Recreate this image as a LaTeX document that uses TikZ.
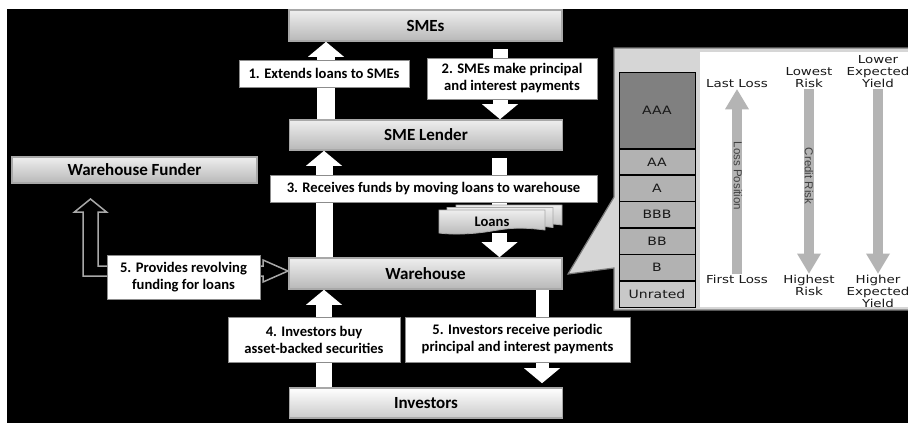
\documentclass[tikz,border=0pt]{standalone}
\usepackage{fontspec}
\setmainfont{Carlito}
\newfontfamily\panelfont[FakeStretch=1.22]{DejaVu Sans}
\newfontfamily\narrowfont{Liberation Sans}
\usetikzlibrary{arrows.meta}
\definecolor{boxtop}{HTML}{EEEEEE}
\definecolor{boxbot}{HTML}{B8B8B8}
\definecolor{glow}{HTML}{A8A8A8}
\definecolor{panelgray}{HTML}{D6D6D6}
\definecolor{paneledge}{HTML}{7A7A7A}
\definecolor{tranche}{HTML}{B2B2B2}
\definecolor{aaacol}{HTML}{808080}
\definecolor{unratedcol}{HTML}{C8C8C8}
\definecolor{parrow}{HTML}{B4B4B4}
\definecolor{lbledge}{HTML}{8C8C8C}
\pgfdeclarelayer{back}
\pgfdeclarelayer{mid}
\pgfsetlayers{back,mid,main}
\begin{document}
\begin{tikzpicture}[x=1pt,y=-1pt,
 mainbox/.style={draw=glow, line width=1.6pt, top color=boxtop, bottom color=boxbot, minimum width=273pt, minimum height=31pt, inner sep=0pt, font=\bfseries\fontsize{17}{20}\selectfont},
 lbl/.style={draw=lbledge, line width=0.8pt, fill=white, inner sep=0pt, align=center, font=\bfseries\fontsize{14.6}{17}\selectfont},
 blk/.style={draw=white, line width=#1, -{Triangle[width=36pt,length=15pt,line width=0pt]}},
 shaft/.style={draw=white, line width=#1},
 tr/.style={draw=black, line width=0.6pt, fill=tranche, minimum width=76pt, minimum height=25.83pt, inner sep=0pt, anchor=north, font=\panelfont\fontsize{11.5}{13}\selectfont, text=black!90},
 ptext/.style={align=center, inner sep=1pt, font=\panelfont\fontsize{11}{12}\selectfont, text=black!90},
 parr/.style={draw=parrow, line width=10pt, -{Triangle[width=24pt,length=20pt,line width=0pt]}},
 rottext/.style={rotate=-90, font=\narrowfont\fontsize{11.5}{13}\selectfont, text=black!75, inner sep=0pt},
 docsheet/.style={draw=glow, line width=0.8pt, top color=boxtop, bottom color=boxbot},
 hollow/.style={draw=glow, line width=1.5pt, fill=black, line join=miter},
 docpic/.pic={\path[docsheet] (0,0) -- (106,0) -- (106,20) .. controls (82,17) and (70,18) .. (53,21) .. controls (35,24) and (15,25) .. (0,23) -- cycle;}
]
\useasboundingbox (0,0) rectangle (908,423);
\begin{pgfonlayer}{back}
\fill[white] (0,0) rectangle (908,423);
\fill[black] (7,9) rectangle (908,423);
\end{pgfonlayer}

% right panel with callout
\fill[panelgray] (908,48) -- (614,48) -- (614,197) -- (568,274) -- (614,268) -- (614,310) -- (908,310) -- cycle;
\draw[paneledge, line width=1.2pt] (908,48) -- (614,48) -- (614,197) -- (568,274) -- (614,268) -- (614,310) -- (908,310);
\fill[white] (700,52) rectangle (908,307);

% tranches
\node[tr, fill=aaacol, minimum height=76pt] (aaa) at (657,72) {AAA};
\node[tr] (aa) at (aaa.south) {AA};
\node[tr] (a) at (aa.south) {A};
\node[tr] (bbb) at (a.south) {BBB};
\node[tr] (bb) at (bbb.south) {BB};
\node[tr] (b) at (bb.south) {B};
\node[tr, fill=unratedcol] (unrated) at (b.south) {Unrated};

% panel texts and arrows
\node[ptext] (lastloss) at (737,84) {Last Loss};
\node[ptext] (firstloss) at (737,279) {First Loss};
\node[ptext] (lowest) at (809,78) {Lowest\\Risk};
\node[ptext] (highest) at (809,285) {Highest\\Risk};
\node[ptext] (lower) at (878,72) {Lower\\Expected\\Yield};
\node[ptext] (higher) at (878,291) {Higher\\Expected\\Yield};
\draw[parr] (firstloss.north) -- (lastloss.south);
\draw[parr] (lowest.south) -- (highest.north);
\draw[parr] (lower.south) -- (higher.north);
\node[rottext] (losspos) at (738,176) {Loss Position};
\node[rottext] (credrisk) at (809,176) {Credit Risk};

% main boxes
\node[mainbox] (smes) at (425.5,25.5) {SMEs};
\node[mainbox, minimum height=30pt] (lender) at (426,135) {SME Lender};
\node[mainbox] (warehouse) at (425.5,273.5) {Warehouse};
\node[mainbox, minimum height=30pt, top color=white, bottom color=boxtop!85!black] (investors) at (426,403) {Investors};
\node[mainbox, minimum width=245pt, minimum height=26pt] (funder) at (134.5,170) {Warehouse Funder};

% loans stack
\pic at (456,205) {docpic};
\pic at (447,207.5) {docpic};
\pic at (439,210) {docpic};
\node[font=\bfseries\fontsize{14.6}{17}\selectfont, minimum width=106pt, minimum height=23pt, inner sep=0pt] (loans) at (492,221.5) {Loans};

% labels
\node[lbl, minimum width=170pt, minimum height=27pt] (l1) at (324,73.5) {1. Extends loans to SMEs};
\node[lbl, minimum width=170pt, minimum height=41pt] (l2) at (512,78.5) {2. SMEs make principal\\and interest payments};
\node[lbl, minimum width=327pt, minimum height=27pt] (l3) at (433.5,188.5) {3. Receives funds by moving loans to warehouse};
\node[lbl, minimum width=153pt, minimum height=44pt] (l5f) at (183.5,277) {5. Provides revolving\\funding for loans};
\node[lbl, minimum width=172pt, minimum height=45pt] (l4) at (314,339.5) {4. Investors buy\\asset-backed securities};
\node[lbl, minimum width=225pt, minimum height=45pt] (l5i) at (517.5,339.5) {5. Investors receive periodic\\principal and interest payments};

% connectors
\coordinate (xa) at (326,0);
\coordinate (xb) at (500,0);
\coordinate (xc) at (324,0);
\coordinate (xd) at (499.5,0);
\coordinate (xe) at (542,0);
\begin{pgfonlayer}{mid}
\draw[blk=18pt] (lender.north -| xa) -- (smes.south -| xa);
\draw[blk=15pt, shorten <=7pt] (smes.south -| xb) -- (lender.north -| xb);
\draw[blk=17pt] (warehouse.north -| xc) -- (lender.south -| xc);
\draw[shaft=15pt, shorten <=7pt] (lender.south -| xd) -- (loans.north -| xd);
\draw[blk=15pt] (loans.south -| xd) -- (warehouse.north -| xd);
\draw[blk=16pt] (investors.north -| xc) -- (warehouse.south -| xc);
\draw[blk=13pt, shorten >=4pt] (warehouse.south -| xe) -- (investors.north -| xe);
% hollow double arrow funder <-> warehouse
\draw[hollow] (90.5,199) -- (106.5,212) -- (98,212) -- (98,266) -- (263,266) -- (263,260) -- (288,271) -- (263,282) -- (263,276) -- (83,276) -- (83,212) -- (74.5,212) -- cycle;
\end{pgfonlayer}
\end{tikzpicture}
\end{document}
